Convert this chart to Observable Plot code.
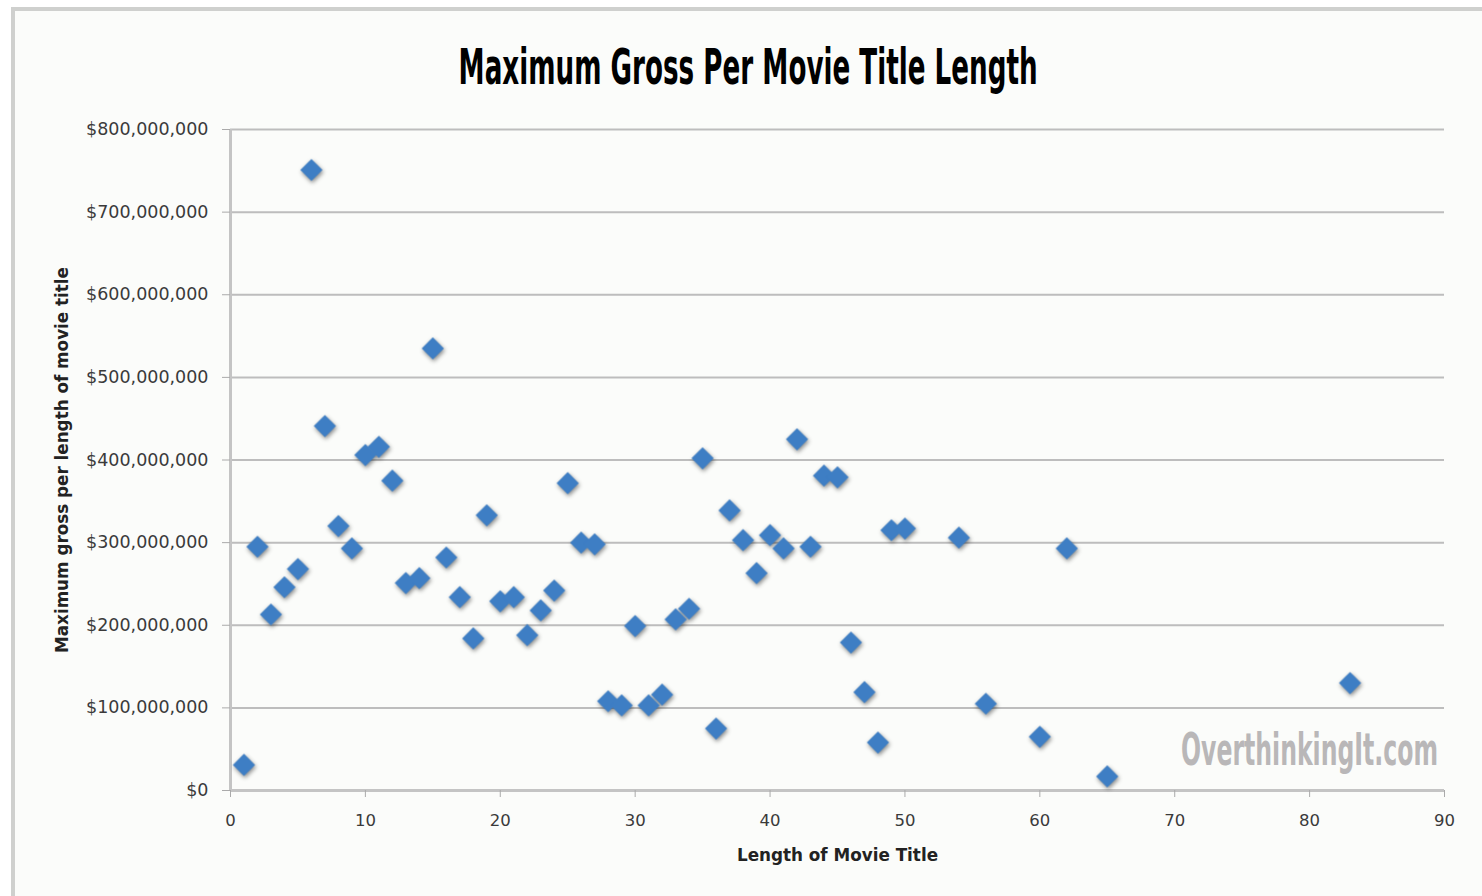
<!DOCTYPE html>
<html>
<head>
<meta charset="utf-8">
<script src="https://cdn.jsdelivr.net/npm/d3@7"></script>
<script src="https://cdn.jsdelivr.net/npm/@observablehq/plot@0.6"></script>
<style>
  html, body { margin: 0; padding: 0; background: #ffffff; }
  #frame {
    position: absolute; left: 11px; top: 7px; width: 1480px; height: 900px;
    background: #fbfcfa; border-left: 4px solid #cfd0ce; border-top: 4px solid #cfd0ce;
    box-sizing: border-box;
  }
  #wrap { position: absolute; left: 0; top: 0; width: 1482px; height: 896px; overflow: hidden; }
  #title {
    position: absolute; top: 38px; left: 7px; width: 1482px; text-align: center;
    font-family: "Liberation Sans Narrow", "DejaVu Sans Condensed", sans-serif;
    font-weight: bold; font-size: 50px; color: #000; white-space: nowrap;
  }
  #title span { display: inline-block; transform-origin: center center; }
  #chart { position: absolute; left: 0; top: 100px; }
  #watermark {
    position: absolute; left: 1181px; top: 724px;
    font-family: "Liberation Sans Narrow", "DejaVu Sans Condensed", sans-serif;
    font-weight: bold; font-size: 44px; color: #b9b7b8; white-space: nowrap;
    transform-origin: left top;
  }
</style>
</head>
<body>
<div id="wrap">
  <div id="frame"></div>
  <div id="title"><span id="tspan">Maximum Gross Per Movie Title Length</span></div>
  <div id="chart"></div>
  <div id="watermark">OverthinkingIt.com</div>
</div>
<script>
// Title length (characters)
const titleLength = [1, 2, 3, 4, 5, 6, 7, 8, 9, 10, 11, 12, 13, 14, 15, 16, 17, 18, 19, 20,
  21, 22, 23, 24, 25, 26, 27, 28, 29, 30, 31, 32, 33, 34, 35, 36, 37, 38, 39, 40,
  41, 42, 43, 44, 45, 46, 47, 48, 49, 50, 54, 56, 60, 62, 65, 83];
// Maximum gross (US $)
const maxGross = [31e6, 295e6, 213e6, 246e6, 268e6, 751e6, 441e6, 320e6, 293e6, 406e6,
  416e6, 375e6, 251e6, 257e6, 535e6, 282e6, 234e6, 184e6, 333e6, 229e6,
  234e6, 188e6, 218e6, 242e6, 372e6, 300e6, 298e6, 108e6, 103e6, 199e6,
  103e6, 116e6, 207e6, 220e6, 402e6, 75e6, 339e6, 303e6, 263e6, 309e6,
  293e6, 425e6, 295e6, 381e6, 379e6, 179e6, 119e6, 58e6, 315e6, 317e6,
  306e6, 105e6, 65e6, 293e6, 17e6, 130e6];
const xTicks = [0, 10, 20, 30, 40, 50, 60, 70, 80, 90];
const yTicks = [0, 1e8, 2e8, 3e8, 4e8, 5e8, 6e8, 7e8, 8e8];
const xLabel = "Length of Movie Title";
const yLabel = "Maximum gross per length of movie title";

const data = titleLength.map((x, i) => ({x, y: maxGross[i]}));
const fmt = d3.format("$,");

const plot = Plot.plot({
  width: 1482,
  height: 790,
  marginLeft: 230,
  marginRight: 38,
  marginTop: 29,
  marginBottom: 100,
  style: {background: "transparent", fontFamily: "'DejaVu Sans', sans-serif", fontSize: "16px", color: "#333"},
  x: {domain: [0, 90], ticks: xTicks, label: null},
  y: {domain: [0, 8e8], ticks: yTicks, label: null, tickFormat: fmt},
  marks: [
    Plot.gridY(yTicks, {stroke: "#bdbdbd", strokeWidth: 2, strokeOpacity: 1}),
    Plot.ruleX([0], {stroke: "#c4c4c4", strokeWidth: 3}),
    Plot.ruleY([0], {stroke: "#c4c4c4", strokeWidth: 3}),
    Plot.axisY(yTicks, {tickFormat: fmt, tickSize: 8, tickPadding: 14, stroke: "#aaa", fill: "#3a3a3a", fontSize: 17.5,
      label: null}),
    Plot.axisX(xTicks, {tickSize: 7, tickPadding: 17, stroke: "#aaa", fill: "#3a3a3a", fontSize: 16.5, label: null}),
    Plot.text([xLabel], {frameAnchor: "bottom", dy: 70, fontWeight: "bold", fontSize: 16.8, fill: "#222"}),
    Plot.text([yLabel], {frameAnchor: "left", textAnchor: "middle", rotate: -90, dx: -168, fontWeight: "bold", fontSize: 16.8, fill: "#222"}),
    Plot.dot(data, {x: "x", y: "y", symbol: "diamond2", r: 10, fill: "#3e7ec4", stroke: "none"})
  ]
});
document.getElementById("chart").appendChild(plot);
d3.select(plot).selectAll('g[aria-label="dot"]').style("filter", "drop-shadow(1px 2px 2px rgba(0,0,0,0.45))");

// fit title width
const t = document.getElementById("tspan");
const w = t.getBoundingClientRect().width;
t.style.transform = `scaleX(${579 / w})`;
const wm = document.getElementById("watermark");
const ww = wm.getBoundingClientRect().width;
wm.style.transform = `scaleX(${257 / ww})`;
</script>
</body>
</html>
